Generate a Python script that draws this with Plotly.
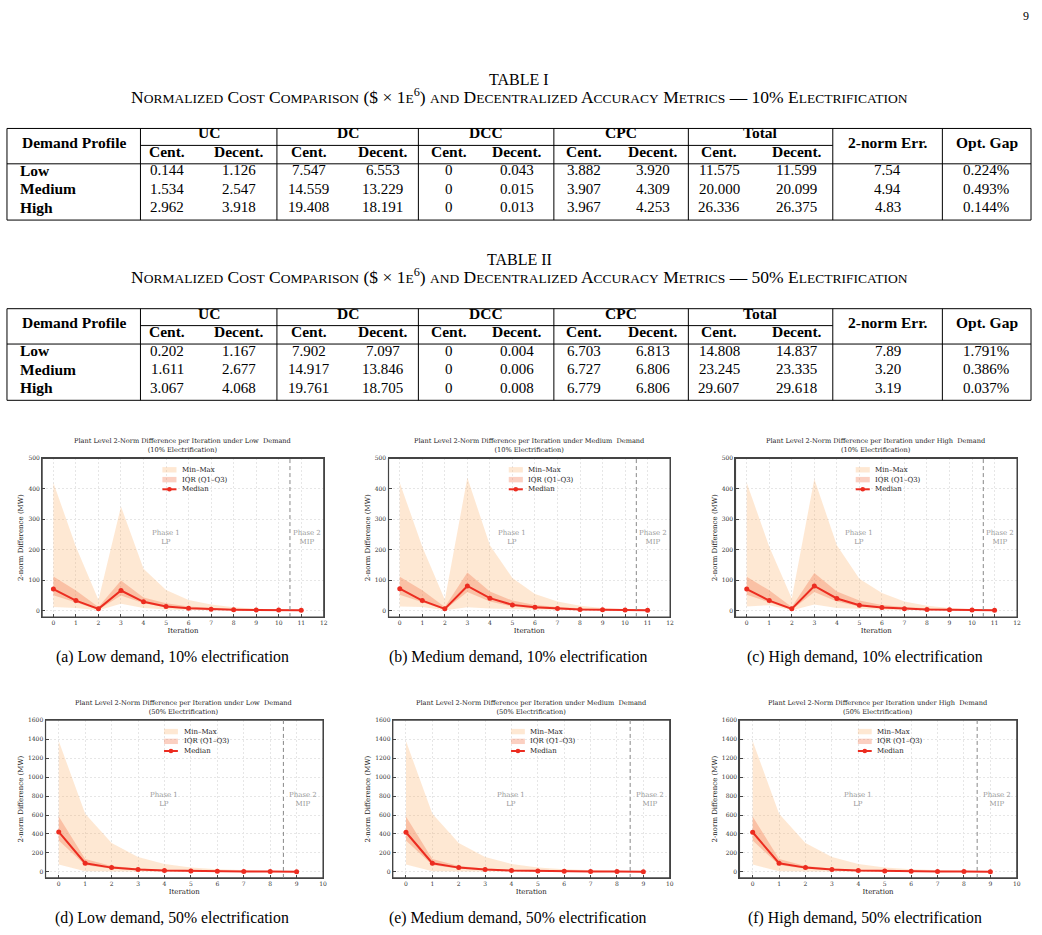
import plotly.graph_objects as go

W, H = 1042, 935

# ---------------- Table data ----------------
group_cols = ["UC", "DC", "DCC", "CPC", "Total"]
sub_cols = ["Cent.", "Decent."]
extra_cols = ["2-norm Err.", "Opt. Gap"]
profiles = ["Low", "Medium", "High"]

t1_low = ["0.144", "1.126", "7.547", "6.553", "0", "0.043", "3.882", "3.920", "11.575", "11.599", "7.54", "0.224%"]
t1_medium = ["1.534", "2.547", "14.559", "13.229", "0", "0.015", "3.907", "4.309", "20.000", "20.099", "4.94", "0.493%"]
t1_high = ["2.962", "3.918", "19.408", "18.191", "0", "0.013", "3.967", "4.253", "26.336", "26.375", "4.83", "0.144%"]

t2_low = ["0.202", "1.167", "7.902", "7.097", "0", "0.004", "6.703", "6.813", "14.808", "14.837", "7.89", "1.791%"]
t2_medium = ["1.611", "2.677", "14.917", "13.846", "0", "0.006", "6.727", "6.806", "23.245", "23.335", "3.20", "0.386%"]
t2_high = ["3.067", "4.068", "19.761", "18.705", "0", "0.008", "6.779", "6.806", "29.607", "29.618", "3.19", "0.037%"]

# ---------------- Convergence data ----------------
iters_10 = [0, 1, 2, 3, 4, 5, 6, 7, 8, 9, 10, 11]
iters_50 = [0, 1, 2, 3, 4, 5, 6, 7, 8, 9]

low10_max = [420, 210, 35, 342, 138, 68, 35, 20, 11, 6, 4, 2]
low10_q3 = [112, 66, 12, 99, 43, 24, 14, 9, 5, 3, 2, 1.5]
low10_med = [71, 33, 6, 66, 29, 14, 8, 5, 3, 2, 2, 1]
low10_q1 = [51, 28, 3, 50, 24, 11, 6, 3, 2, 1, 1, 0.5]
low10_min = [12, 9, 1, 23, 9, 4, 2, 1, 0.5, 0.3, 0.2, 0.1]

med10_max = [420, 210, 36, 436, 215, 107, 55, 30, 16, 9, 5, 3]
med10_q3 = [111, 67, 12, 125, 63, 33, 19, 12, 8, 5, 3, 2]
med10_med = [72, 33, 6, 81, 41, 19, 11, 7, 4, 3, 2, 1]
med10_q1 = [52, 28, 3, 61, 30, 14, 8, 5, 3, 2, 1, 0.5]
med10_min = [14, 12, 1, 11, 7, 5, 3, 2, 1, 1, 0.5, 0.3]

high10_max = [420, 210, 40, 432, 215, 105, 58, 30, 16, 9, 5, 3]
high10_q3 = [111, 67, 12, 124, 63, 33, 19, 12, 8, 5, 3, 2]
high10_med = [71, 33, 6, 81, 40, 18, 10, 6, 4, 3, 2, 1]
high10_q1 = [52, 28, 3, 61, 30, 14, 8, 5, 3, 2, 1, 0.5]
high10_min = [14, 18, 1, 20, 9, 5, 3, 2, 1, 1, 0.5, 0.3]

low50_max = [1380, 614, 305, 158, 84, 46, 28, 17, 10, 7]
low50_q3 = [583, 137, 63, 35, 21, 12, 8, 5, 4, 3]
low50_med = [421, 91, 45, 25, 15, 9, 6, 4, 3, 2]
low50_q1 = [330, 72, 32, 17, 10, 6, 4, 3, 2, 1]
low50_min = [77, 7, 4, 3, 2, 1, 1, 0.5, 0.3, 0.2]

med50_max = [1380, 612, 305, 157, 84, 46, 28, 17, 10, 7]
med50_q3 = [583, 137, 63, 35, 21, 12, 8, 5, 4, 3]
med50_med = [418, 91, 45, 25, 15, 9, 6, 4, 3, 2]
med50_q1 = [330, 72, 32, 17, 10, 6, 4, 3, 2, 1]
med50_min = [77, 7, 4, 3, 2, 1, 1, 0.5, 0.3, 0.2]

high50_max = [1380, 612, 305, 157, 84, 46, 28, 17, 10, 7]
high50_q3 = [583, 137, 63, 35, 21, 12, 8, 5, 4, 3]
high50_med = [418, 91, 45, 25, 15, 9, 6, 4, 3, 2]
high50_q1 = [330, 72, 32, 17, 10, 6, 4, 3, 2, 1]
high50_min = [77, 7, 4, 3, 2, 1, 1, 0.5, 0.3, 0.2]

phase_boundary = [10.5, 10.5, 10.5, 8.5, 8.5, 8.5]
legend_labels = ["Min\u2013Max", "IQR (Q1\u2013Q3)", "Median"]

# ---------------- Styles ----------------
SERIF = "Liberation Serif"
PLOT_FONT = "DejaVu Serif"
C_MINMAX = "rgba(251,180,110,0.30)"
C_IQR = "rgba(244,120,80,0.35)"
C_MED = "rgb(236,44,32)"


def X(px):
    return px / W


def Y(py):
    return 1 - py / H


def small_caps(s, small=13.5):
    out, run = [], ""
    for ch in s:
        if ch.islower():
            run += ch.upper()
        else:
            if run:
                out.append(f'<span style="font-size:{small}px">{run}</span>')
                run = ""
            out.append(ch)
    if run:
        out.append(f'<span style="font-size:{small}px">{run}</span>')
    return "".join(out)


fig = go.Figure()
shapes = []
annotations = []


def ann(x, y, text, size=15, family=SERIF, color="black", xanchor="center", yanchor="middle", **kw):
    annotations.append(dict(x=x, y=y, xref="paper", yref="paper", text=text, showarrow=False,
                            xanchor=xanchor, yanchor=yanchor,
                            font=dict(family=family, size=size, color=color), **kw))


def hline(x0, x1, y, w=1):
    shapes.append(dict(type="line", xref="paper", yref="paper", x0=X(x0), x1=X(x1), y0=Y(y), y1=Y(y),
                       line=dict(color="black", width=w)))


def vline(x, y0, y1, w=1):
    shapes.append(dict(type="line", xref="paper", yref="paper", x0=X(x), x1=X(x), y0=Y(y0), y1=Y(y1),
                       line=dict(color="black", width=w)))


# Table geometry (px)
col_edges = [7, 141, 278, 420, 556, 691, 836, 946, 1035]
data_x = [168, 240, 310, 384, 451, 519, 586, 656, 722, 800, 891, 990]


def draw_table(top, name, elec, rows):
    ann(X(521), Y(top - 49), name, size=16)
    sub = (small_caps("Normalized Cost Comparison ($ \u00d7 1e") + "<sup>6</sup>" +
           small_caps(f") and Decentralized Accuracy Metrics \u2014 {elec} Electrification"))
    ann(X(521), Y(top - 33), sub, size=17.5)
    bottom = top + 92
    hline(col_edges[0], col_edges[-1], top)
    hline(col_edges[0], col_edges[-1], bottom)
    hline(col_edges[0], col_edges[-1], top + 35.5)
    hline(col_edges[1], col_edges[6], top + 17)
    for xe in col_edges:
        vline(xe, top, bottom)
    ann(X((col_edges[0] + col_edges[1]) / 2), Y(top + 14), "<b>Demand Profile</b>", size=15.5)
    for gi, g in enumerate(group_cols):
        ann(X((col_edges[gi + 1] + col_edges[gi + 2]) / 2), Y(top + 4.5), f"<b>{g}</b>", size=15.5)
        ann(X(data_x[2 * gi]), Y(top + 23), f"<b>{sub_cols[0]}</b>", size=15.5)
        ann(X(data_x[2 * gi + 1]), Y(top + 23), f"<b>{sub_cols[1]}</b>", size=15.5)
    for ei, e in enumerate(extra_cols):
        ann(X((col_edges[6 + ei] + col_edges[7 + ei]) / 2), Y(top + 14), f"<b>{e}</b>", size=15.5)
    for ri, (prof, vals) in enumerate(zip(profiles, rows)):
        yy = top + 42 + ri * 18.6
        ann(X(18), Y(yy), f"<b>{prof}</b>", size=15.5, xanchor="left")
        for v, xx in zip(vals, data_x):
            ann(X(xx), Y(yy), v, size=15)


draw_table(125, "TABLE I", "10%", [t1_low, t1_medium, t1_high])
draw_table(306, "TABLE II", "50%", [t2_low, t2_medium, t2_high])
ann(X(1030), Y(12), "9", size=12)

# ---------------- Panels ----------------
panels = [
    dict(demand="Low", elec="10%", cap="(a) Low demand, 10% electrification", x=iters_10,
         s=(low10_max, low10_q3, low10_med, low10_q1, low10_min),
         dom=(42.3, 325.0, 456.3, 615.7), yr=[-21, 500], dt=100, xr=[-0.5, 12], cx=173, cy=656),
    dict(demand="Medium", elec="10%", cap="(b) Medium demand, 10% electrification", x=iters_10,
         s=(med10_max, med10_q3, med10_med, med10_q1, med10_min),
         dom=(390.0, 672.7, 456.3, 615.7), yr=[-21, 500], dt=100, xr=[-0.5, 12], cx=520, cy=656),
    dict(demand="High", elec="10%", cap="(c) High demand, 10% electrification", x=iters_10,
         s=(high10_max, high10_q3, high10_med, high10_q1, high10_min),
         dom=(738.3, 1021.0, 456.3, 615.7), yr=[-21, 500], dt=100, xr=[-0.5, 12], cx=868, cy=656),
    dict(demand="Low", elec="50%", cap="(d) Low demand, 50% electrification", x=iters_50,
         s=(low50_max, low50_q3, low50_med, low50_q1, low50_min),
         dom=(45.7, 324.3, 719.3, 877.7), yr=[-64, 1600], dt=200, xr=[-0.5, 10], cx=173, cy=918),
    dict(demand="Medium", elec="50%", cap="(e) Medium demand, 50% electrification", x=iters_50,
         s=(med50_max, med50_q3, med50_med, med50_q1, med50_min),
         dom=(394.3, 672.3, 719.3, 877.7), yr=[-64, 1600], dt=200, xr=[-0.5, 10], cx=520, cy=918),
    dict(demand="High", elec="50%", cap="(f) High demand, 50% electrification", x=iters_50,
         s=(high50_max, high50_q3, high50_med, high50_q1, high50_min),
         dom=(742.3, 1020.7, 719.3, 877.7), yr=[-64, 1600], dt=200, xr=[-0.5, 10], cx=868, cy=918),
]

axis_common = dict(showline=True, linecolor="#444", linewidth=1.2, mirror=True,
                   ticks="inside", ticklen=3, tickwidth=0.8, tickcolor="#444",
                   showgrid=True, gridcolor="#e6e6e6", griddash="2px,2px", gridwidth=0.6,
                   zeroline=False, tickfont=dict(family=PLOT_FONT, size=6, color="#333"),
                   title_font=dict(family=PLOT_FONT, size=7, color="#222"))

layout_axes = {}
for i, p in enumerate(panels, start=1):
    sfx = "" if i == 1 else str(i)
    xa, ya = "x" + sfx, "y" + sfx
    mx, q3, med, q1, mn = p["s"]
    common = dict(x=p["x"], xaxis=xa, yaxis=ya, showlegend=False, hoverinfo="skip")
    fig.add_trace(go.Scatter(y=mx, mode="lines", line=dict(width=0), **common))
    fig.add_trace(go.Scatter(y=mn, mode="lines", line=dict(width=0), fill="tonexty",
                             fillcolor=C_MINMAX, **common))
    fig.add_trace(go.Scatter(y=q3, mode="lines", line=dict(width=0), **common))
    fig.add_trace(go.Scatter(y=q1, mode="lines", line=dict(width=0), fill="tonexty",
                             fillcolor=C_IQR, **common))
    fig.add_trace(go.Scatter(y=med, mode="lines+markers", line=dict(color=C_MED, width=2),
                             marker=dict(color=C_MED, size=5), name="Median",
                             x=p["x"], xaxis=xa, yaxis=ya, showlegend=False))

    x0, x1, ytop, ybot = p["dom"]
    layout_axes["xaxis" + sfx] = dict(axis_common, domain=[X(x0), X(x1)], anchor=ya, range=p["xr"],
                                      tick0=0, dtick=1, title=dict(text="Iteration", standoff=2))
    layout_axes["yaxis" + sfx] = dict(axis_common, domain=[Y(ybot), Y(ytop)], anchor=xa, range=p["yr"],
                                      tick0=0, dtick=p["dt"],
                                      title=dict(text="2-norm Difference (MW)", standoff=3))

    xd, yd = f"{xa} domain", f"{ya} domain"
    # axes frame (spines)
    shapes.append(dict(type="rect", xref=xd, yref=yd, x0=0, x1=1, y0=0, y1=1, layer="above",
                       line=dict(color="#444", width=1.2), fillcolor="rgba(0,0,0,0)"))
    # title
    annotations.append(dict(xref=xd, yref=yd, x=0.5, y=1, xanchor="center", yanchor="bottom", yshift=2,
                            showarrow=False,
                            text=f"Plant Level 2-Norm Difference per Iteration under {p['demand']}\u00a0 Demand"
                                 f"<br>({p['elec']} Electrification)",
                            font=dict(family=PLOT_FONT, size=6.6, color="#222")))
    # phase boundary
    b = phase_boundary[i - 1]
    shapes.append(dict(type="line", xref=xa, yref=yd, x0=b, x1=b, y0=0, y1=1,
                       line=dict(color="#888", width=1, dash="4px,3px")))
    annotations.append(dict(xref=xa, yref=yd, x=(p["xr"][0] + b) / 2, y=0.5, xanchor="center",
                            yanchor="middle", showarrow=False,
                            text="Phase 1<br>LP", font=dict(family=PLOT_FONT, size=7, color="#999")))
    annotations.append(dict(xref=xa, yref=yd, x=(b + p["xr"][1]) / 2, y=0.5, xanchor="center",
                            yanchor="middle", showarrow=False,
                            text="Phase 2<br>MIP", font=dict(family=PLOT_FONT, size=7, color="#999")))
    # legend (drawn inside axes)
    lx0, lx1, ltx = 0.427, 0.477, 0.49
    ly = [0.928, 0.866, 0.805]
    for yy, col in zip(ly[:2], [C_MINMAX, C_IQR]):
        shapes.append(dict(type="rect", xref=xd, yref=yd, x0=lx0, x1=lx1, y0=yy - 0.017, y1=yy + 0.017,
                           fillcolor=col, line=dict(width=0)))
    shapes.append(dict(type="line", xref=xd, yref=yd, x0=lx0, x1=lx1, y0=ly[2], y1=ly[2],
                       line=dict(color=C_MED, width=2)))
    shapes.append(dict(type="circle", xref=xd, yref=yd, xsizemode="pixel", ysizemode="pixel",
                       xanchor=(lx0 + lx1) / 2, yanchor=ly[2], x0=-2.3, x1=2.3, y0=-2.3, y1=2.3,
                       fillcolor=C_MED, line=dict(width=0)))
    for yy, lab in zip(ly, legend_labels):
        annotations.append(dict(xref=xd, yref=yd, x=ltx, y=yy, xanchor="left", yanchor="middle",
                                showarrow=False, text=lab,
                                font=dict(family=PLOT_FONT, size=7, color="#222")))
    # caption
    ann(X(p["cx"]), Y(p["cy"]), p["cap"], size=15.8)

fig.update_layout(width=W, height=H, margin=dict(l=0, r=0, t=0, b=0),
                  paper_bgcolor="white", plot_bgcolor="white", showlegend=False,
                  shapes=shapes, annotations=annotations, **layout_axes)

fig.write_html("out.html")
